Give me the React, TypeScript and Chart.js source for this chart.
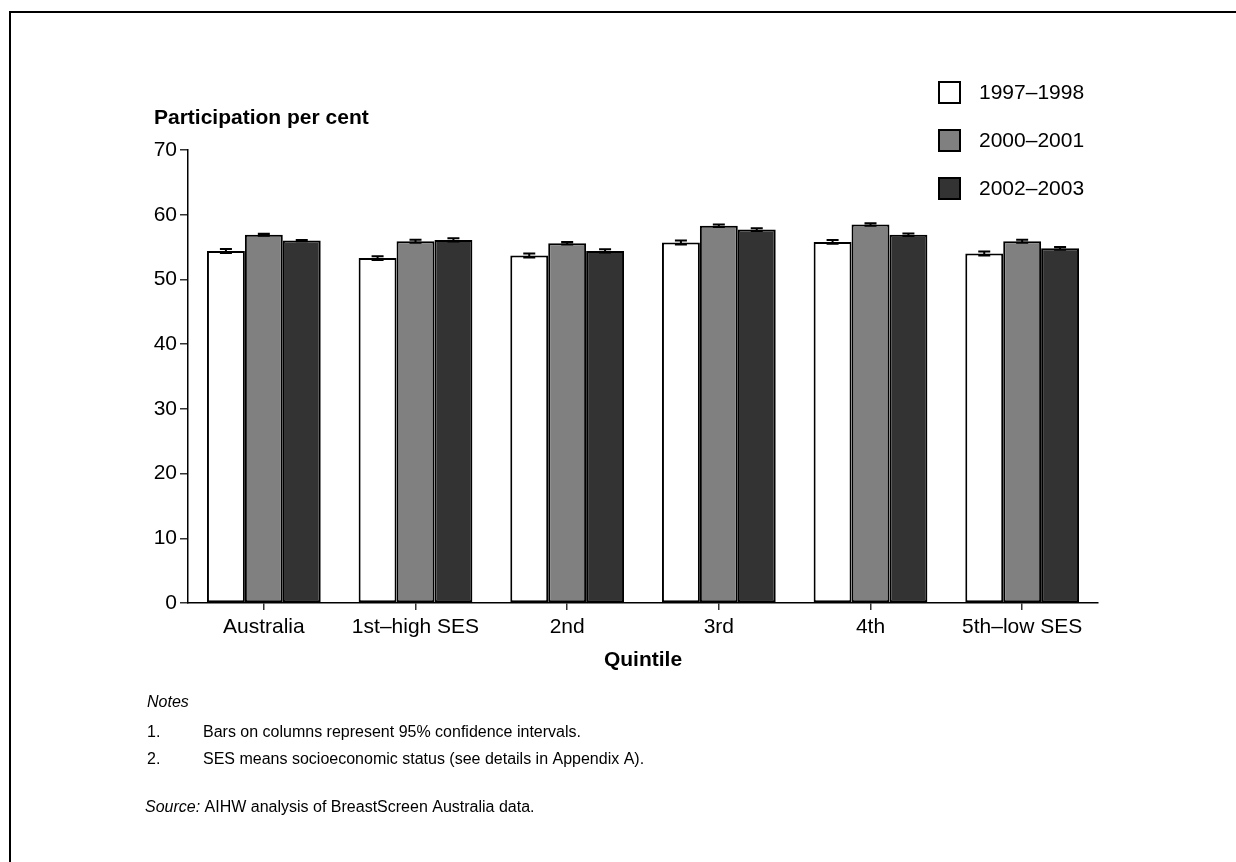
import React, { useEffect, useRef } from "react";
import { Chart, registerables } from "chart.js";

Chart.register(...registerables);

const categories = ["Australia", "1st–high SES", "2nd", "3rd", "4th", "5th–low SES"];
const seriesNames = ["1997–1998", "2000–2001", "2002–2003"];
const values1997 = [54.4, 53.3, 53.7, 55.7, 55.8, 54.0];
const values2000 = [56.9, 55.9, 55.6, 58.3, 58.5, 55.9];
const values2002 = [56.0, 56.1, 54.4, 57.7, 56.9, 54.8];
const err1997 = [0.3, 0.3, 0.3, 0.3, 0.3, 0.3];
const err2000 = [0.15, 0.25, 0.2, 0.2, 0.2, 0.25];
const err2002 = [0.1, 0.25, 0.25, 0.2, 0.2, 0.2];
const yTicks = [0, 10, 20, 30, 40, 50, 60, 70];
const seriesColors = ["#ffffff", "#808080", "#333333"];

const FONT = "'Liberation Sans', Arial, Helvetica, sans-serif";

const errorBarsPlugin = {
  id: "errorBars",
  afterDatasetsDraw(chart: any) {
    const ctx = chart.ctx;
    const yScale = chart.scales.y;
    const errs = [err1997, err2000, err2002];
    ctx.save();
    ctx.strokeStyle = "#000";
    ctx.lineWidth = 2;
    chart.data.datasets.forEach((ds: any, i: number) => {
      const meta = chart.getDatasetMeta(i);
      meta.data.forEach((el: any, j: number) => {
        const v = ds.data[j];
        const e = errs[i][j];
        const yHi = yScale.getPixelForValue(v + e);
        const yLo = yScale.getPixelForValue(v - e);
        const x = el.x;
        ctx.beginPath();
        ctx.moveTo(x, yHi);
        ctx.lineTo(x, yLo);
        ctx.moveTo(x - 6, yHi);
        ctx.lineTo(x + 6, yHi);
        ctx.moveTo(x - 6, yLo);
        ctx.lineTo(x + 6, yLo);
        ctx.stroke();
      });
    });
    ctx.restore();
  },
};

const decorPlugin = {
  id: "decor",
  afterDraw(chart: any) {
    const ctx = chart.ctx;
    const area = chart.chartArea;
    ctx.save();
    // page frame
    ctx.strokeStyle = "#000";
    ctx.lineWidth = 2;
    ctx.beginPath();
    ctx.moveTo(10, 862);
    ctx.lineTo(10, 12);
    ctx.lineTo(1236, 12);
    ctx.stroke();

    ctx.fillStyle = "#000";
    ctx.textBaseline = "middle";
    // y axis title
    ctx.font = `bold 21px ${FONT}`;
    ctx.textAlign = "left";
    ctx.fillText("Participation per cent", 154, 118);
    // x axis title
    ctx.textAlign = "center";
    ctx.fillText("Quintile", (area.left + area.right) / 2, 660);

    // legend
    ctx.textAlign = "left";
    ctx.font = `21px ${FONT}`;
    chart.data.datasets.forEach((ds: any, i: number) => {
      const y = 82 + i * 48;
      ctx.fillStyle = ds.backgroundColor;
      ctx.fillRect(939, y, 21, 21);
      ctx.strokeStyle = "#000";
      ctx.lineWidth = 2;
      ctx.strokeRect(939, y, 21, 21);
      ctx.fillStyle = "#000";
      ctx.fillText(ds.label, 979, y + 11);
    });

    // notes
    ctx.font = `italic 16px ${FONT}`;
    ctx.fillText("Notes", 147, 703);
    ctx.font = `16px ${FONT}`;
    ctx.fillText("1.", 147, 733);
    ctx.fillText("Bars on columns represent 95% confidence intervals.", 203, 733);
    ctx.fillText("2.", 147, 760);
    ctx.fillText("SES means socioeconomic status (see details in Appendix A).", 203, 760);
    ctx.font = `italic 16px ${FONT}`;
    const src = "Source:";
    ctx.fillText(src, 145, 808);
    const w = ctx.measureText(src).width;
    ctx.font = `16px ${FONT}`;
    ctx.fillText(" AIHW analysis of BreastScreen Australia data.", 145 + w, 808);
    ctx.restore();
  },
};

export default function App() {
  const ref = useRef<HTMLCanvasElement>(null);
  useEffect(() => {
    if (!ref.current) return;
    Chart.defaults.font.family = FONT;
    const mk = (label: string, data: number[], color: string) => ({
      label,
      data,
      backgroundColor: color,
      borderColor: "#000",
      borderWidth: 2,
      borderSkipped: false,
      categoryPercentage: 0.75,
      barPercentage: 1.0,
    });
    const chart = new Chart(ref.current, {
      type: "bar",
      data: {
        labels: categories,
        datasets: [
          mk(seriesNames[0], values1997, seriesColors[0]),
          mk(seriesNames[1], values2000, seriesColors[1]),
          mk(seriesNames[2], values2002, seriesColors[2]),
        ],
      },
      options: {
        responsive: false,
        animation: false,
        events: [],
        layout: { padding: { left: 0, top: 150, right: 138, bottom: 0 } },
        plugins: { legend: { display: false }, tooltip: { enabled: false }, title: { display: false } },
        scales: {
          x: {
            grid: { offset: false, drawOnChartArea: false, drawTicks: true, tickLength: 7, color: "#333", lineWidth: 1.5 },
            border: { display: true, color: "#000", width: 1.5 },
            ticks: { color: "#000", font: { size: 21, family: FONT }, padding: 5, maxRotation: 0, autoSkip: false },
            afterFit: (s: any) => { s.height = 259; },
          },
          y: {
            min: 0,
            max: 70,
            afterBuildTicks: (s: any) => { s.ticks = yTicks.map((v) => ({ value: v })); },
            grid: { drawOnChartArea: false, drawTicks: true, tickLength: 8, color: "#333", lineWidth: 1.5 },
            border: { display: true, color: "#000", width: 1.5 },
            ticks: { color: "#000", font: { size: 21, family: FONT }, padding: 3 },
            afterFit: (s: any) => { s.width = 188; },
          },
        },
      },
      plugins: [errorBarsPlugin, decorPlugin],
    } as any);
    return () => chart.destroy();
  }, []);
  return (
    <div style={{ position: "fixed", left: 0, top: 0, width: 1236, height: 862, background: "#fff" }}>
      <canvas ref={ref} width={1236} height={862} style={{ width: 1236, height: 862, display: "block" }} />
    </div>
  );
}
